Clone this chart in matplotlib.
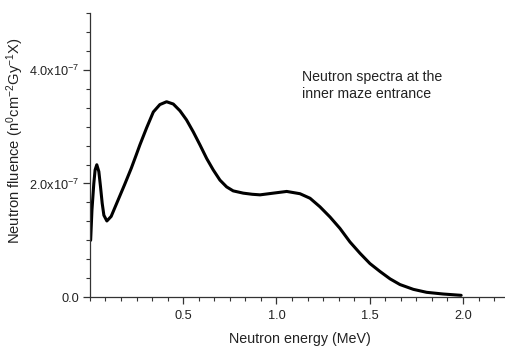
import numpy as np
import matplotlib
matplotlib.use("Agg")
import matplotlib.pyplot as plt
from matplotlib.ticker import MultipleLocator, FixedLocator

plt.rcParams['font.family'] = ['Liberation Sans', 'DejaVu Sans']
plt.rcParams['mathtext.default'] = 'regular'

# neutron spectrum: energy in MeV, fluence in units of 1e-7
energy = [0.004, 0.011, 0.021, 0.028, 0.037, 0.048, 0.057, 0.066, 0.075, 0.091,
          0.114, 0.150, 0.186, 0.222, 0.248, 0.268, 0.304, 0.340, 0.375, 0.411,
          0.447, 0.483, 0.518, 0.554, 0.590, 0.626, 0.661, 0.697, 0.733, 0.768,
          0.822, 0.870, 0.912, 0.983, 1.055, 1.126, 1.180, 1.233, 1.287, 1.340,
          1.394, 1.448, 1.501, 1.555, 1.609, 1.662, 1.734, 1.805, 1.894, 1.990]
fluence = [1.00, 1.53, 2.00, 2.24, 2.33, 2.21, 1.94, 1.65, 1.44, 1.34,
           1.42, 1.70, 1.98, 2.27, 2.50, 2.68, 2.98, 3.26, 3.39, 3.44,
           3.40, 3.28, 3.12, 2.91, 2.68, 2.44, 2.24, 2.06, 1.94, 1.87,
           1.83, 1.81, 1.80, 1.83, 1.86, 1.82, 1.74, 1.59, 1.41, 1.21,
           0.97, 0.77, 0.59, 0.45, 0.32, 0.22, 0.135, 0.083, 0.053, 0.03]

x_ticks = [0.5, 1.0, 1.5, 2.0]
y_ticks = [0.0, 2e-7, 4e-7]
y_labels = ['0.0', r'2.0x10$^{-7}$', r'4.0x10$^{-7}$']

E = np.array(energy)
F = np.array(fluence) * 1e-7

fig = plt.figure(figsize=(5.05, 3.47), dpi=100)
ax = fig.add_axes([0.178, 0.144, 0.822, 0.818])

ax.plot(E, F, color='black', lw=2.2, solid_joinstyle='round', solid_capstyle='round')

ax.set_xlim(0, 2.225)
ax.set_ylim(0, 5e-7)

ax.spines['top'].set_visible(False)
ax.spines['right'].set_visible(False)
for s in ['left', 'bottom']:
    ax.spines[s].set_linewidth(0.9)
    ax.spines[s].set_color('#333333')

ax.xaxis.set_major_locator(FixedLocator(x_ticks))
ax.xaxis.set_minor_locator(MultipleLocator(0.5 / 6))
ax.yaxis.set_major_locator(FixedLocator(y_ticks))
ax.set_yticklabels(y_labels)
ax.yaxis.set_minor_locator(MultipleLocator(2e-7 / 6))

ax.tick_params(which='major', direction='out', length=5, width=0.9,
               labelsize=9.2, colors='#333333', labelcolor='#222222')
ax.tick_params(which='minor', direction='out', length=3, width=0.8, colors='#333333')
ax.tick_params(axis='x', pad=4)
ax.tick_params(axis='y', pad=2.5)

ax.set_xlabel('Neutron energy (MeV)', fontsize=10.3, color='#222222')
ax.xaxis.set_label_coords(0.506, -0.123)
ax.set_ylabel(r'Neutron fluence (n$^{0}$cm$^{-2}$Gy$^{-1}$X)', fontsize=10.6,
              color='#222222')
ax.yaxis.set_label_coords(-0.155, 0.55)

ax.text(1.137, 4.0e-7, 'Neutron spectra at the\ninner maze entrance',
        fontsize=10.2, color='#222222', va='top', ha='left', linespacing=1.3)

fig.savefig('out.png', dpi=100)
